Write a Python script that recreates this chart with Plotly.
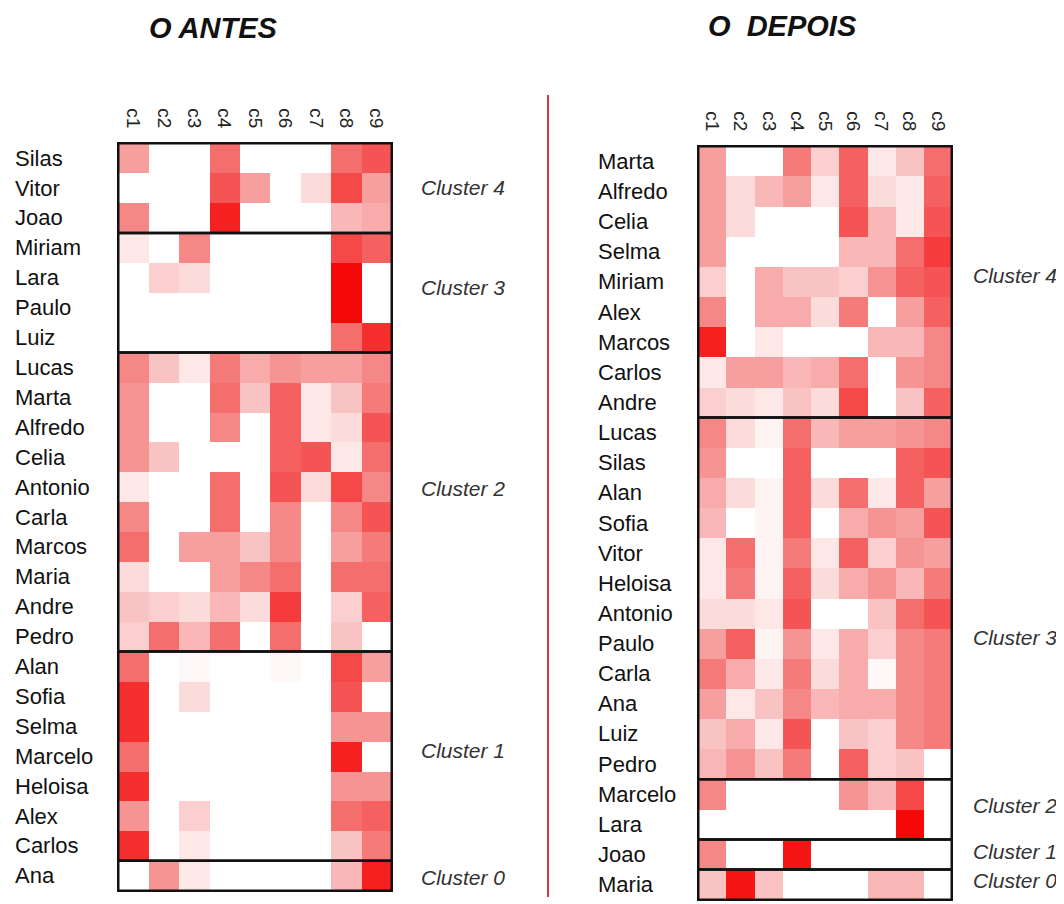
import plotly.graph_objects as go

# ---------------- data ----------------
columns = ["c1", "c2", "c3", "c4", "c5", "c6", "c7", "c8", "c9"]

antes_rows = ["Silas", "Vitor", "Joao", "Miriam", "Lara", "Paulo", "Luiz", "Lucas", "Marta",
              "Alfredo", "Celia", "Antonio", "Carla", "Marcos", "Maria", "Andre", "Pedro",
              "Alan", "Sofia", "Selma", "Marcelo", "Heloisa", "Alex", "Carlos", "Ana"]
antes_vals = [
    [4, 0, 0, 6, 0, 0, 0, 6, 7],
    [0, 0, 0, 7, 4, 0, 1.5, 7.5, 4],
    [5, 0, 0, 9, 0, 0, 0, 3, 3.5],
    [1, 0, 5, 0, 0, 0, 0, 7.5, 6.5],
    [0, 2, 1.5, 0, 0, 0, 0, 10, 0],
    [0, 0, 0, 0, 0, 0, 0, 10, 0],
    [0, 0, 0, 0, 0, 0, 0, 6, 8.5],
    [5, 2.5, 1, 5.5, 3.5, 4.5, 4, 4, 5],
    [4.5, 0, 0, 6, 2.5, 6.5, 1, 2.5, 5.5],
    [4.5, 0, 0, 5, 0, 6.5, 1, 1.5, 7],
    [4.5, 2.5, 0, 0, 0, 6.5, 7, 1, 6],
    [1, 0, 0, 6, 0, 7, 1.5, 7.5, 5],
    [5, 0, 0, 6, 0, 5, 0, 5, 7],
    [6, 0, 4, 4, 2.5, 5, 0, 4, 5.5],
    [1.5, 0, 0, 4, 5, 6, 0, 6, 6],
    [2.5, 2, 1.5, 3, 1.5, 8, 0, 2, 6.5],
    [2, 6, 3, 6, 0, 6, 0, 2.5, 0],
    [6, 0, 0.3, 0, 0, 0.3, 0, 7.5, 4],
    [8.5, 0, 1.5, 0, 0, 0, 0, 7, 0],
    [8.5, 0, 0, 0, 0, 0, 0, 4.5, 4.5],
    [6, 0, 0, 0, 0, 0, 0, 9, 0],
    [8.5, 0, 0, 0, 0, 0, 0, 4.5, 4.5],
    [4.5, 0, 2, 0, 0, 0, 0, 6, 6.5],
    [8.5, 0, 1, 0, 0, 0, 0, 2.5, 5.5],
    [0, 4.5, 1, 0, 0, 0, 0, 3, 9],
]
antes_cluster_names = ["Cluster 4", "Cluster 3", "Cluster 2", "Cluster 1", "Cluster 0"]
antes_cluster_sizes = [3, 4, 10, 7, 1]

depois_rows = ["Marta", "Alfredo", "Celia", "Selma", "Miriam", "Alex", "Marcos", "Carlos", "Andre",
               "Lucas", "Silas", "Alan", "Sofia", "Vitor", "Heloisa", "Antonio", "Paulo", "Carla",
               "Ana", "Luiz", "Pedro", "Marcelo", "Lara", "Joao", "Maria"]
depois_vals = [
    [4, 0, 0, 5.5, 2, 6.5, 1, 2.5, 6],
    [4, 1.5, 3, 4, 1, 6.5, 1.5, 1, 6.5],
    [4, 1.5, 0, 0, 0, 7, 3, 1, 7],
    [4, 0, 0, 0, 0, 3, 3, 6, 8],
    [2, 0, 3.5, 2.5, 2.5, 2, 4.5, 6.5, 7],
    [5, 0, 3.5, 3.5, 1.5, 5.5, 0, 4, 6.5],
    [9, 0, 1, 0, 0, 0, 3, 3, 5],
    [1, 4, 4, 3, 3.5, 6, 0, 4.5, 5],
    [2, 1.5, 1, 2.5, 1.5, 7.5, 0, 2.5, 6.5],
    [5, 1.5, 0.5, 6, 3, 4, 4, 4.5, 5],
    [4.5, 0, 0, 6.5, 0, 0, 0, 6.5, 7],
    [3.5, 1.5, 0.5, 6.5, 1.5, 6, 1, 6.5, 4],
    [3, 0, 0.5, 6.5, 0, 3.5, 4.5, 4, 7],
    [1, 6, 0.5, 5.5, 1, 6.5, 2, 4.5, 4],
    [1, 5.5, 0.5, 6.5, 1.5, 3.5, 4.5, 3, 5.5],
    [1.5, 1.5, 1, 7, 0, 0, 2.5, 6, 7],
    [4, 6.5, 0.5, 4.5, 1, 3.5, 2, 5, 5.5],
    [5.5, 3.5, 1, 5.5, 1.5, 3.5, 0.3, 5, 5.5],
    [4, 1, 2.5, 5, 3, 3.5, 3.5, 5, 5.5],
    [2.5, 3.5, 1, 7, 0, 2.5, 2, 5, 5.5],
    [3, 4.5, 2.5, 5.5, 0, 6.5, 2, 2.5, 0],
    [5, 0, 0, 0, 0, 4.5, 3, 7.5, 0],
    [0, 0, 0, 0, 0, 0, 0, 10, 0],
    [5, 0, 0, 9.5, 0, 0, 0, 0, 0],
    [2.5, 9.5, 2.5, 0, 0, 0, 3, 3, 0],
]
depois_cluster_names = ["Cluster 4", "Cluster 3", "Cluster 2", "Cluster 1", "Cluster 0"]
depois_cluster_sizes = [9, 12, 2, 1, 1]

titles = ["O ANTES", "O  DEPOIS"]

# ---------------- figure ----------------
# the page body has an 8px default margin: compensate so page pixels map 1:1
OFF = 8
W, H = 1064 - OFF, 904 - OFF
def px(x):
    return (x - OFF) / W
def py(y):
    return 1 - (y - OFF) / H

colorscale = [[0, "rgb(255,255,255)"], [0.5, "rgb(245,135,135)"], [1, "rgb(245,8,8)"]]
FONT = "Liberation Sans, Arial, sans-serif"

fig = go.Figure()
fig.add_trace(go.Heatmap(z=antes_vals, x=columns, y=antes_rows, colorscale=colorscale,
                         zmin=0, zmax=10, showscale=False, xaxis="x", yaxis="y"))
fig.add_trace(go.Heatmap(z=depois_vals, x=columns, y=depois_rows, colorscale=colorscale,
                         zmin=0, zmax=10, showscale=False, xaxis="x2", yaxis="y2"))

xcommon = dict(side="top", tickangle=90, showgrid=False, zeroline=False, showline=False,
               ticks="outside", ticklen=6, tickcolor="rgba(0,0,0,0)",
               tickfont=dict(family=FONT, size=19, color="#222"))
ycommon = dict(autorange="reversed", showticklabels=False, showgrid=False, zeroline=False,
               showline=False, ticks="")

fig.update_layout(
    width=W, height=H,
    margin=dict(l=0, r=0, t=0, b=0),
    paper_bgcolor="white", plot_bgcolor="white",
    xaxis=dict(domain=[px(117), px(393)], anchor="y", **xcommon),
    yaxis=dict(domain=[py(892), py(142)], anchor="x", **ycommon),
    xaxis2=dict(domain=[px(697), px(953)], anchor="y2", **xcommon),
    yaxis2=dict(domain=[py(901), py(145)], anchor="x2", **ycommon),
    showlegend=False,
)

shapes = []
annotations = []

def add_panel(rows, sizes, names, xref, yref, name_x, cl_x, cl_ys):
    start = 0
    for size, nm, cy in zip(sizes, names, cl_ys):
        shapes.append(dict(type="rect", xref=xref, yref=yref, x0=-0.5, x1=len(columns) - 0.5,
                           y0=start - 0.5, y1=start + size - 0.5,
                           line=dict(color="#111", width=2.5), fillcolor="rgba(0,0,0,0)"))
        annotations.append(dict(text="<i>" + nm + "</i>", xref="paper", yref="paper",
                                x=px(cl_x), y=py(cy), xanchor="left", yanchor="middle",
                                showarrow=False, font=dict(family=FONT, size=21, color="#333")))
        start += size
    for r in rows:
        annotations.append(dict(text=r, xref="paper", yref=yref, x=px(name_x), y=r,
                                xanchor="left", yanchor="middle", showarrow=False,
                                font=dict(family=FONT, size=22, color="#111")))

add_panel(antes_rows, antes_cluster_sizes, antes_cluster_names, "x", "y", 13, 419,
          [187, 287, 488, 750, 877])
add_panel(depois_rows, depois_cluster_sizes, depois_cluster_names, "x2", "y2", 596, 971,
          [275, 637, 805, 851, 880])

# titles
annotations.append(dict(text="<b><i>" + titles[0] + "</i></b>", xref="paper", yref="paper",
                        x=px(213), y=py(28), xanchor="center", yanchor="middle", showarrow=False,
                        font=dict(family=FONT, size=29, color="#111")))
annotations.append(dict(text="<b><i>" + titles[1].replace(" ", "&nbsp;") + "</i></b>",
                        xref="paper", yref="paper", x=px(782), y=1, xanchor="center",
                        yanchor="top", showarrow=False,
                        font=dict(family=FONT, size=29, color="#111")))

# separator line
shapes.append(dict(type="line", xref="paper", yref="paper", x0=px(548), x1=px(548),
                   y0=py(95), y1=py(897), line=dict(color="rgb(205,60,65)", width=2)))

fig.update_layout(shapes=shapes, annotations=annotations)
fig.write_html("out.html")
